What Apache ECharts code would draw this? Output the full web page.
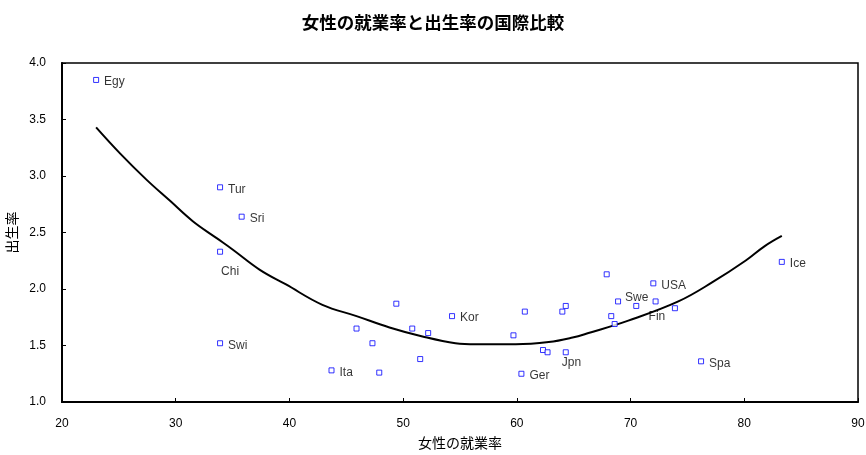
<!DOCTYPE html>
<html>
<head>
<meta charset="utf-8">
<script src="https://cdn.jsdelivr.net/npm/echarts@6/dist/echarts.min.js"></script>
<style>
html,body{margin:0;padding:0;background:#fff;}
#chart{width:866px;height:455px;}
</style>
</head>
<body>
<div id="chart"></div>
<script>
// Country points: women's employment rate (x) and fertility rate (y)
const countryNames = ['Egy','Tur','Sri','Chi','Swi','','Kor','','','','','','Ita','','','','','','','','Jpn','Ger','','USA','Swe','','Fin','','','','Spa','Ice'];
const employmentRate = [23.0,33.9,35.8,33.9,33.9,49.4,54.3,45.9,50.8,52.2,47.3,51.5,43.7,47.9,60.7,59.7,64.0,64.3,62.3,62.7,64.3,60.4,67.9,72.0,68.9,70.5,72.2,73.9,68.3,68.6,76.2,83.3];
const fertilityRate = [3.85,2.90,2.64,2.33,1.52,1.87,1.76,1.65,1.65,1.61,1.52,1.38,1.28,1.26,1.80,1.59,1.80,1.85,1.46,1.44,1.44,1.25,2.13,2.05,1.89,1.85,1.89,1.83,1.76,1.69,1.36,2.24];

// Fitted curve
const curveX = [23.0,25.1,27.4,29.5,31.5,33.6,35.0,37.4,39.7,42.9,45.9,48.8,51.7,54.6,56.4,59.9,62.8,64.9,66.3,69.8,74.2,77.2,80.1,81.8,83.3];
const curveY = [3.43,3.20,2.97,2.78,2.60,2.45,2.35,2.17,2.04,1.86,1.76,1.66,1.58,1.52,1.51,1.51,1.53,1.57,1.61,1.72,1.89,2.06,2.25,2.38,2.47];

const xTicks = [20,30,40,50,60,70,80,90];
const yTicks = [1.0,1.5,2.0,2.5,3.0,3.5,4.0];

// label nudges in px (style only)
const labelNudge = {Chi:[-7,20], Jpn:[-12,10], Fin:[-15,15], Swe:[-1,-4]};

const latin = '"Liberation Sans", Arial, sans-serif';
const cjk = '"Noto Sans CJK JP", sans-serif';

const pts = employmentRate.map((x,i)=>{
  const name = countryNames[i];
  const item = {value:[x, fertilityRate[i]], name:name};
  if (name) item.label = {show:true, formatter:name};
  return item;
});
const curve = curveX.map((x,i)=>[x, curveY[i]]);

const chart = echarts.init(document.getElementById('chart'));
chart.setOption({
  animation:false,
  backgroundColor:'#fff',
  title:{
    text:'女性の就業率と出生率の国際比較',
    left:'center', top:9,
    textStyle:{fontFamily:cjk, fontSize:17.5, fontWeight:'bold', color:'#000'}
  },
  grid:{left:62, right:8, top:63, bottom:53, outerBoundsMode:'none', containLabel:false,
        show:true, borderColor:'#000', borderWidth:1.5, backgroundColor:'transparent'},
  xAxis:{
    type:'value', min:xTicks[0], max:xTicks[xTicks.length-1], interval:10,
    name:'女性の就業率', nameLocation:'middle', nameGap:34,
    nameTextStyle:{fontFamily:cjk, fontSize:14, color:'#000'},
    axisLine:{show:true, onZero:false, lineStyle:{color:'#000', width:2}},
    axisTick:{show:true, inside:true, length:4, lineStyle:{color:'#000', width:1}},
    axisLabel:{fontFamily:latin, fontSize:12, color:'#000', margin:16},
    splitLine:{show:false}
  },
  yAxis:{
    type:'value', min:yTicks[0], max:yTicks[yTicks.length-1], interval:0.5,
    name:'出生率', nameLocation:'middle', nameGap:37, nameRotate:90,
    nameTextStyle:{fontFamily:cjk, fontSize:14, color:'#000'},
    axisLine:{show:true, onZero:false, lineStyle:{color:'#000', width:2}},
    axisTick:{show:true, inside:true, length:4, lineStyle:{color:'#000', width:1}},
    axisLabel:{fontFamily:latin, fontSize:12, color:'#000', margin:16, formatter:v=>v.toFixed(1)},
    splitLine:{show:false}
  },
  series:[
    {
      type:'line', data:curve, symbol:'none', smooth:0.4,
      lineStyle:{color:'#000', width:2}, z:2, silent:true
    },
    {
      type:'scatter', data:pts, symbol:'rect', symbolSize:5,
      itemStyle:{color:'#fff', borderColor:'#0000ff', borderWidth:1},
      label:{show:false, position:'right', distance:5, fontFamily:latin, fontSize:12, color:'#000'},
      labelLayout:function(p){
        const nm = countryNames[p.dataIndex];
        const d = labelNudge[nm] || [0,2];
        return {dx:d[0], dy:d[1], hideOverlap:false};
      },
      z:3
    }
  ]
});
</script>
</body>
</html>
